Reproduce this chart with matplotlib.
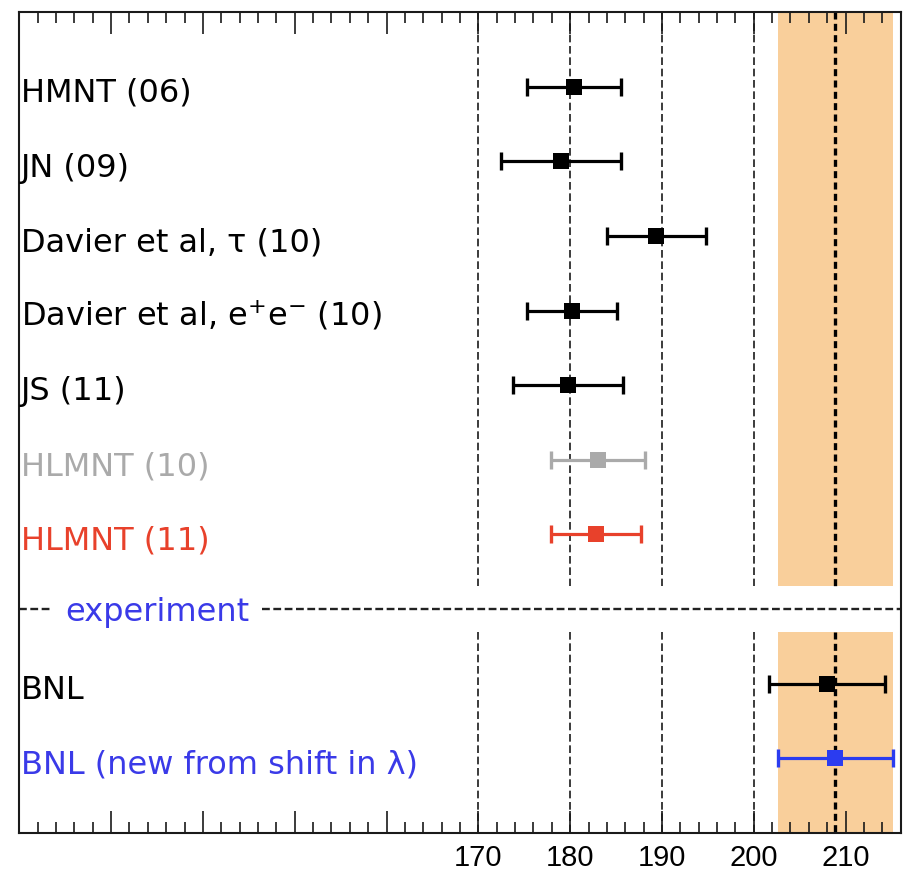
#! /bin/env python
# -*- coding: utf-8 -*-
"""
muon g-2: hadronic predictions vs. BNL measurement
"""

import numpy as np
import matplotlib
matplotlib.use('Agg')
import matplotlib.pyplot as plt
from matplotlib.ticker import MultipleLocator, FuncFormatter

# theory predictions (a_mu x 10^10 - 11659000)
labels = ['HMNT (06)', 'JN (09)', 'Davier et al, τ (10)',
          r'Davier et al, e$^{+}$e$^{-}$ (10)', 'JS (11)',
          'HLMNT (10)', 'HLMNT (11)']
values = [180.4, 179.0, 189.4, 180.2, 179.8, 183.0, 182.8]
errors = [5.1, 6.5, 5.4, 4.9, 6.0, 5.1, 4.9]
colors = ['black', 'black', 'black', 'black', 'black', '#aaaaaa', '#e8412b']

# experiment
exp_labels = ['BNL', 'BNL (new from shift in λ)']
exp_values = [208.0, 208.9]
exp_errors = [6.3, 6.3]
exp_colors = ['black', '#2b3cf0']

grid_x = [170, 180, 190, 200]
tick_labels = [170, 180, 190, 200, 210]

if __name__ == '__main__':
    fig = plt.figure(figsize=(9.07, 8.71), dpi=100)
    ax = fig.add_axes([0.0213, 0.0436, 0.9717, 0.9426])
    ax.set_xlim(120, 216)
    ax.set_ylim(10, -1)

    gap = (6.69, 7.31)   # break around the "experiment" separator
    blocks = [(-1, gap[0]), (gap[1], 10)]

    # band of the new BNL value
    c0, e0 = exp_values[1], exp_errors[1]
    for y0, y1 in blocks:
        ax.fill_betweenx([y0, y1], c0 - e0, c0 + e0, color='#f9cf9b', lw=0, zorder=0)
        ax.vlines(grid_x, y0, y1, colors='#1a1a1a', lw=1.2,
                  linestyles=(0, (4.6, 2.2)), zorder=1)
        ax.vlines([c0], y0, y1, colors='black', lw=2.4,
                  linestyles=(0, (2.1, 1.3)), zorder=1)

    # separator
    ax.plot([120, 123.4], [7, 7], color='#222222', lw=1.7,
            ls=(0, (3.3, 1.5)), zorder=2)
    ax.plot([146.4, 216], [7, 7], color='#222222', lw=1.7,
            ls=(0, (3.3, 1.5)), zorder=2)
    ax.text(125.0, 7, 'experiment', color='#3a3ae8', fontsize=23,
            family='DejaVu Sans', va='center_baseline', ha='left')

    rows = list(range(len(labels))) + [8, 9]
    all_labels = labels + exp_labels
    all_values = values + exp_values
    all_errors = errors + exp_errors
    all_colors = colors + exp_colors
    text_colors = colors[:] + ['black', '#3a3ae8']

    for y, lab, v, e, c, tc in zip(rows, all_labels, all_values, all_errors,
                                   all_colors, text_colors):
        ax.errorbar(v, y, xerr=e, fmt='none', ecolor=c,
                    elinewidth=2.3, capsize=6.5, capthick=2.4, zorder=3)
        ax.plot(v, y, 's', color=c, ms=11.5, mew=0, zorder=4)
        ax.annotate(lab, xy=(0.002, y), xycoords=('axes fraction', 'data'),
                    xytext=(0, -11), textcoords='offset points',
                    va='baseline', ha='left', color=tc, fontsize=23,
                    family='DejaVu Sans')

    ax.xaxis.set_major_locator(MultipleLocator(10))
    ax.xaxis.set_minor_locator(MultipleLocator(2))
    ax.xaxis.set_major_formatter(FuncFormatter(
        lambda x, p: '%d' % x if int(round(x)) in tick_labels else ''))
    ax.tick_params(axis='x', which='both', direction='in', top=True,
                   bottom=True, width=1.2, color='#1a1a1a')
    ax.tick_params(axis='x', which='major', length=16, pad=8, labelsize=21)
    ax.tick_params(axis='x', which='minor', length=8)
    for t in ax.get_xticklabels():
        t.set_family('Liberation Sans')
    ax.set_yticks([])
    for s in ax.spines.values():
        s.set_linewidth(1.5)
        s.set_color('#1a1a1a')

    plt.savefig('out.png', dpi=100)
